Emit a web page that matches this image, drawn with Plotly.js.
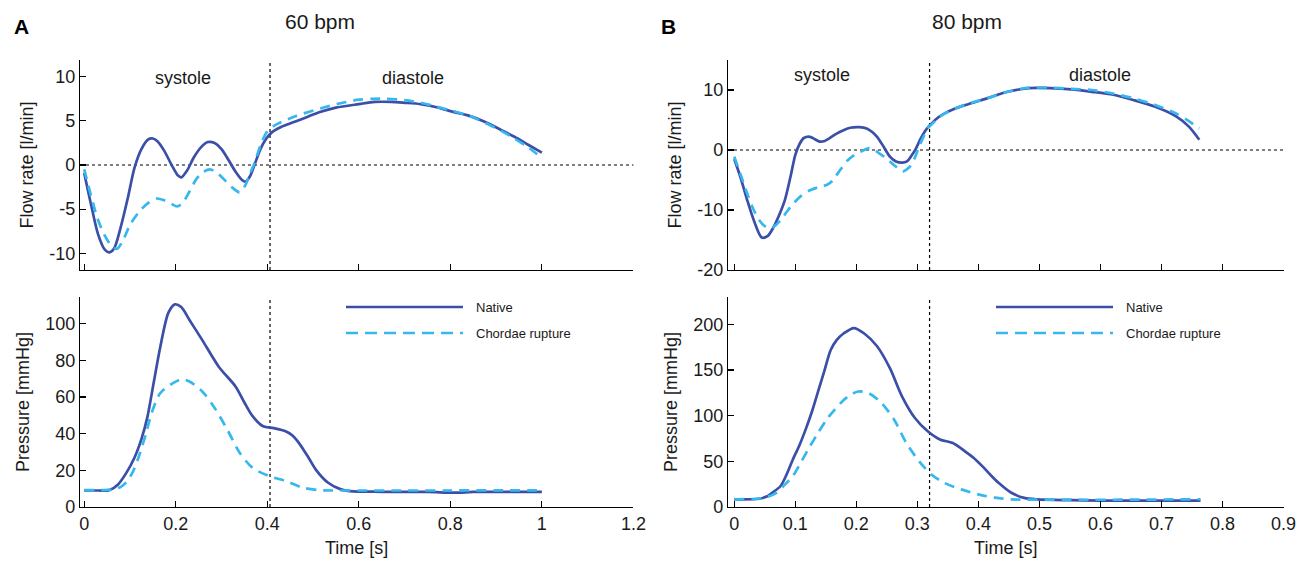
<!DOCTYPE html>
<html>
<head>
<meta charset="utf-8">
<script src="https://cdn.plot.ly/plotly-3.0.1.min.js"></script>
<style>html,body{margin:0;padding:0;background:#fff;}#chart{width:1305px;height:565px;}</style>
</head>
<body>
<div id="chart"></div>
<script>
// ---------- Panel A : 60 bpm ----------
const tA_flowNative = [0,0.015,0.03,0.045,0.055,0.065,0.08,0.095,0.11,0.125,0.14,0.15,0.16,0.175,0.19,0.205,0.212,0.225,0.24,0.255,0.27,0.285,0.3,0.315,0.33,0.345,0.352,0.362,0.372,0.385,0.398,0.41,0.43,0.46,0.49,0.515,0.55,0.6,0.635,0.67,0.7,0.735,0.77,0.8,0.84,0.875,0.91,0.94,0.97,1.0];
const vA_flowNative = [-0.9,-4.5,-7.8,-9.6,-9.9,-9.5,-7.0,-3.8,-0.3,1.8,2.9,3.0,2.7,1.6,0.1,-1.2,-1.4,-0.6,0.9,2.0,2.6,2.5,1.8,0.6,-0.7,-1.7,-1.9,-1.3,0.0,1.8,3.0,3.7,4.3,4.9,5.5,6.0,6.5,6.9,7.15,7.15,7.05,6.9,6.55,6.1,5.6,4.9,4.0,3.2,2.3,1.4];
const tA_flowRupture = [0,0.015,0.03,0.045,0.06,0.072,0.085,0.1,0.12,0.14,0.158,0.175,0.19,0.203,0.215,0.23,0.245,0.26,0.275,0.29,0.305,0.322,0.34,0.352,0.362,0.372,0.385,0.4,0.42,0.46,0.515,0.56,0.6,0.63,0.66,0.7,0.74,0.77,0.8,0.84,0.875,0.91,0.94,0.97,1.0];
const vA_flowRupture = [-0.5,-3.5,-6.2,-8.0,-9.2,-9.5,-8.5,-6.8,-5.3,-4.3,-3.8,-4.0,-4.4,-4.7,-4.3,-3.0,-1.6,-0.8,-0.5,-0.9,-1.6,-2.5,-3.1,-2.3,-1.0,0.2,2.2,3.8,4.6,5.5,6.4,7.0,7.4,7.5,7.5,7.35,7.0,6.6,6.2,5.6,4.8,3.9,3.0,2.0,0.8];
const tA_presNative = [0,0.03,0.055,0.074,0.092,0.11,0.125,0.138,0.152,0.166,0.184,0.198,0.212,0.23,0.258,0.294,0.331,0.35,0.368,0.391,0.414,0.441,0.455,0.469,0.49,0.506,0.533,0.561,0.58,0.65,0.75,0.81,0.85,0.92,1.0];
const vA_presNative = [9.0,9.0,9.2,12.3,18.6,27,37,49,68,87,106,110.5,109,102,91,76.5,65.6,57,49.5,44,43,41.2,39,35,27,20.4,13.2,9.6,8.7,8.3,8.2,7.8,8.2,8.3,8.3];
const tA_presRupture = [0,0.04,0.064,0.08,0.092,0.106,0.12,0.135,0.147,0.166,0.193,0.212,0.23,0.258,0.285,0.313,0.34,0.368,0.405,0.441,0.478,0.515,0.6,0.7,0.8,0.9,1.0];
const vA_presRupture = [9.2,9.2,9.6,11,13.5,19,28,40,51,62,67.4,69.6,68.4,63,54,42,29.5,21.3,16.8,14.1,10.5,9.2,9.0,9.0,9.0,9.1,9.1];

// ---------- Panel B : 80 bpm ----------
const tB_flowNative = [0,0.01,0.021,0.033,0.045,0.055,0.062,0.072,0.083,0.092,0.1,0.107,0.114,0.124,0.132,0.14,0.148,0.155,0.167,0.179,0.19,0.205,0.217,0.226,0.234,0.245,0.255,0.265,0.275,0.283,0.29,0.297,0.305,0.313,0.321,0.335,0.345,0.362,0.379,0.414,0.448,0.483,0.517,0.552,0.586,0.621,0.655,0.69,0.724,0.745,0.762];
const vB_flowNative = [-1.5,-4.5,-8.3,-12,-14.6,-14.3,-13.3,-11.2,-8.3,-4.5,-0.8,1.0,2.0,2.2,1.8,1.4,1.5,1.9,2.7,3.3,3.7,3.8,3.6,3.0,2.2,0.5,-1.1,-1.9,-2.1,-1.9,-1.0,0.1,1.8,3.2,4.2,5.5,6.1,6.9,7.5,8.6,9.7,10.3,10.3,10.1,9.7,9.2,8.3,7.2,5.6,3.9,1.7];
const tB_flowRupture = [0,0.01,0.021,0.031,0.041,0.05,0.059,0.067,0.076,0.086,0.097,0.11,0.124,0.138,0.152,0.16,0.166,0.176,0.186,0.197,0.207,0.221,0.23,0.238,0.247,0.255,0.265,0.276,0.283,0.29,0.297,0.303,0.31,0.317,0.33,0.345,0.38,0.414,0.448,0.483,0.517,0.552,0.586,0.621,0.655,0.69,0.724,0.745,0.762];
const vB_flowRupture = [-1.1,-4.0,-7.2,-9.8,-11.7,-12.7,-13.1,-12.6,-11.7,-10.3,-8.9,-7.6,-6.7,-6.2,-5.8,-5.2,-4.4,-3.0,-1.7,-0.8,-0.3,0.3,0.0,-0.6,-1.2,-1.9,-2.8,-3.6,-3.2,-2.5,-1.0,0.6,2.2,3.6,4.9,6.1,7.6,8.6,9.7,10.4,10.4,10.2,10.0,9.4,8.6,7.5,6.1,4.8,3.6];
const tB_presNative = [0,0.041,0.055,0.062,0.076,0.086,0.096,0.107,0.117,0.128,0.138,0.148,0.158,0.168,0.179,0.196,0.213,0.234,0.255,0.275,0.296,0.317,0.337,0.358,0.378,0.392,0.406,0.42,0.433,0.454,0.475,0.496,0.55,0.6,0.65,0.7,0.764];
const vB_presNative = [8.4,9,12,15.6,23,36,52,68,85,106,128,150,172,183,190,196,190,176,152,121,97.5,83,74,70,61,54,45,35,26.5,15.6,10,8.4,7.5,7,7,7,7];
const tB_presRupture = [0,0.048,0.069,0.082,0.096,0.11,0.124,0.138,0.151,0.165,0.179,0.191,0.203,0.22,0.241,0.262,0.282,0.303,0.323,0.344,0.372,0.4,0.427,0.454,0.55,0.65,0.764];
const vB_presRupture = [8.4,10,15.6,24,34,50,66.5,82,95.6,107,117,123,126.5,124.7,114,95.6,70,50,35.6,26.5,19.3,13.8,10.2,8.4,8,8,8.5];

// ---------- tick labels ----------
const ticksA_time = [0, 0.2, 0.4, 0.6, 0.8, 1, 1.2];
const ticksA_timeText = ["0", "0.2", "0.4", "0.6", "0.8", "1", "1.2"];
const ticksB_time = [0, 0.1, 0.2, 0.3, 0.4, 0.5, 0.6, 0.7, 0.8, 0.9];
const ticksB_timeText = ["0", "0.1", "0.2", "0.3", "0.4", "0.5", "0.6", "0.7", "0.8", "0.9"];
const ticksA_flow = [-10, -5, 0, 5, 10];
const ticksA_flowText = ["-10", "-5", "0", "5", "10"];
const ticksA_pres = [0, 20, 40, 60, 80, 100];
const ticksA_presText = ["0", "20", "40", "60", "80", "100"];
const ticksB_flow = [-20, -10, 0, 10];
const ticksB_flowText = ["-20", "-10", "0", "10"];
const ticksB_pres = [0, 50, 100, 150, 200];
const ticksB_presText = ["0", "50", "100", "150", "200"];

const seriesNames = ["Native", "Chordae rupture"];
const panelTitles = ["60 bpm", "80 bpm"];
const panelLetters = ["A", "B"];
const phaseLabels = ["systole", "diastole"];
const endSystole = [0.406, 0.32];

const cNative = "#3b4fa8";
const cRupture = "#36b8ee";
const FONT = "Liberation Sans, Arial, sans-serif";

function tr(x, y, xa, ya, native) {
  return {
    x: x, y: y, xaxis: xa, yaxis: ya, type: "scatter", mode: "lines",
    name: native ? seriesNames[0] : seriesNames[1], showlegend: false,
    line: native ? {color: cNative, width: 2.7, shape: "spline", smoothing: 0.8}
                 : {color: cRupture, width: 2.7, dash: "10px,7px", shape: "spline", smoothing: 0.8},
    hoverinfo: "skip"
  };
}

const data = [
  tr(tA_flowNative, vA_flowNative, "x", "y", true),
  tr(tA_flowRupture, vA_flowRupture, "x", "y", false),
  tr(tA_presNative, vA_presNative, "x2", "y2", true),
  tr(tA_presRupture, vA_presRupture, "x2", "y2", false),
  tr(tB_flowNative, vB_flowNative, "x3", "y3", true),
  tr(tB_flowRupture, vB_flowRupture, "x3", "y3", false),
  tr(tB_presNative, vB_presNative, "x4", "y4", true),
  tr(tB_presRupture, vB_presRupture, "x4", "y4", false)
];

const W = 1305, H = 565;
const px = v => v / W;
const py = v => 1 - v / H;
const domAx = [px(80), px(633.4)];
const domBx = [px(728), px(1283.5)];
const domTop = [py(270), py(60)];
const domBot = [py(507), py(297)];

const tickFont = {family: FONT, size: 18, color: "#1a1a1a"};
const titleFont = {family: FONT, size: 18, color: "#1a1a1a"};

function xax(dom, range, tv, tt, anchor, showLabels) {
  return {
    domain: dom, range: range, anchor: anchor, tickmode: "array", tickvals: tv, ticktext: tt,
    showline: true, linecolor: "#000", linewidth: 1.2, mirror: false,
    ticks: "inside", ticklen: 6, tickcolor: "#000", tickwidth: 1.2,
    showgrid: false, zeroline: false, showticklabels: showLabels,
    tickfont: tickFont, fixedrange: true,
    title: showLabels ? {text: "Time [s]", font: titleFont, standoff: 8} : {text: ""}
  };
}
function yax(dom, range, tv, tt, anchor, title) {
  return {
    domain: dom, range: range, anchor: anchor, tickmode: "array", tickvals: tv, ticktext: tt,
    showline: true, linecolor: "#000", linewidth: 1.2,
    ticks: "inside", ticklen: 6, tickcolor: "#000", tickwidth: 1.2,
    showgrid: false, zeroline: false, tickfont: tickFont, fixedrange: true,
    title: {text: title, font: titleFont, standoff: 10}
  };
}

const layout = {
  width: W, height: H,
  margin: {l: 0, r: 0, t: 0, b: 0},
  paper_bgcolor: "#fff", plot_bgcolor: "#fff",
  showlegend: false,
  font: {family: FONT, color: "#1a1a1a"},
  xaxis: xax(domAx, [-0.0092, 1.2], ticksA_time, ticksA_timeText, "y", false),
  yaxis: yax(domTop, [-11.9, 11.9], ticksA_flow, ticksA_flowText, "x", "Flow rate [l/min]"),
  xaxis2: xax(domAx, [-0.0092, 1.2], ticksA_time, ticksA_timeText, "y2", true),
  yaxis2: yax(domBot, [0, 114.5], ticksA_pres, ticksA_presText, "x2", "Pressure [mmHg]"),
  xaxis3: xax(domBx, [-0.0103, 0.9], ticksB_time, ticksB_timeText, "y3", false),
  yaxis3: yax(domTop, [-20, 15], ticksB_flow, ticksB_flowText, "x3", "Flow rate [l/min]"),
  xaxis4: xax(domBx, [-0.0103, 0.9], ticksB_time, ticksB_timeText, "y4", true),
  yaxis4: yax(domBot, [0, 230], ticksB_pres, ticksB_presText, "x4", "Pressure [mmHg]"),
  shapes: [],
  annotations: []
};

const dotLine = {color: "#000", width: 1.2, dash: "dot"};
// zero lines in flow panels
[["x","y"],["x3","y3"]].forEach(([xa, ya]) => {
  layout.shapes.push({type: "line", xref: xa + " domain", yref: ya, x0: 0, x1: 1, y0: 0, y1: 0, line: dotLine, layer: "below"});
});
// end-systole vertical lines
[["x","y",0],["x2","y2",0],["x3","y3",1],["x4","y4",1]].forEach(([xa, ya, i]) => {
  layout.shapes.push({type: "line", xref: xa, yref: ya + " domain", x0: endSystole[i], x1: endSystole[i], y0: 0, y1: 1, line: dotLine, layer: "below"});
});

// panel letters and titles
const letterX = [21, 669], titleX = [320, 967];
[0,1].forEach(i => {
  layout.annotations.push({xref: "paper", yref: "paper", x: px(letterX[i]), y: py(27), text: "<b>" + panelLetters[i] + "</b>",
    showarrow: false, xanchor: "center", yanchor: "middle", font: {family: FONT, size: 21, color: "#000"}});
  layout.annotations.push({xref: "paper", yref: "paper", x: px(titleX[i]), y: py(22), text: panelTitles[i],
    showarrow: false, xanchor: "center", yanchor: "middle", font: {family: FONT, size: 21, color: "#1a1a1a"}});
});
// phase labels
const sysX = [183, 822], diaX = [413, 1100], phaseY = [78, 75];
[0,1].forEach(i => {
  layout.annotations.push({xref: "paper", yref: "paper", x: px(sysX[i]), y: py(phaseY[i]), text: phaseLabels[0],
    showarrow: false, xanchor: "center", yanchor: "middle", font: {family: FONT, size: 18, color: "#1a1a1a"}});
  layout.annotations.push({xref: "paper", yref: "paper", x: px(diaX[i]), y: py(phaseY[i]), text: phaseLabels[1],
    showarrow: false, xanchor: "center", yanchor: "middle", font: {family: FONT, size: 18, color: "#1a1a1a"}});
});
// legends (drawn in bottom panels)
const legX0 = [346, 996], legX1 = [463, 1113], legTx = [474, 1124];
const legY = [307, 333];
[0,1].forEach(i => {
  layout.shapes.push({type: "line", xref: "paper", yref: "paper", x0: px(legX0[i]), x1: px(legX1[i]), y0: py(legY[0]), y1: py(legY[0]),
    line: {color: cNative, width: 2.7}});
  layout.shapes.push({type: "line", xref: "paper", yref: "paper", x0: px(legX0[i]), x1: px(legX1[i]), y0: py(legY[1]), y1: py(legY[1]),
    line: {color: cRupture, width: 2.7, dash: "12px,7px"}});
  [0,1].forEach(k => {
    layout.annotations.push({xref: "paper", yref: "paper", x: px(legTx[i]), y: py(legY[k]), text: seriesNames[k],
      showarrow: false, xanchor: "left", yanchor: "middle", font: {family: FONT, size: 13, color: "#1a1a1a"}});
  });
});

Plotly.newPlot("chart", data, layout, {displayModeBar: false, staticPlot: true});
</script>
</body>
</html>
